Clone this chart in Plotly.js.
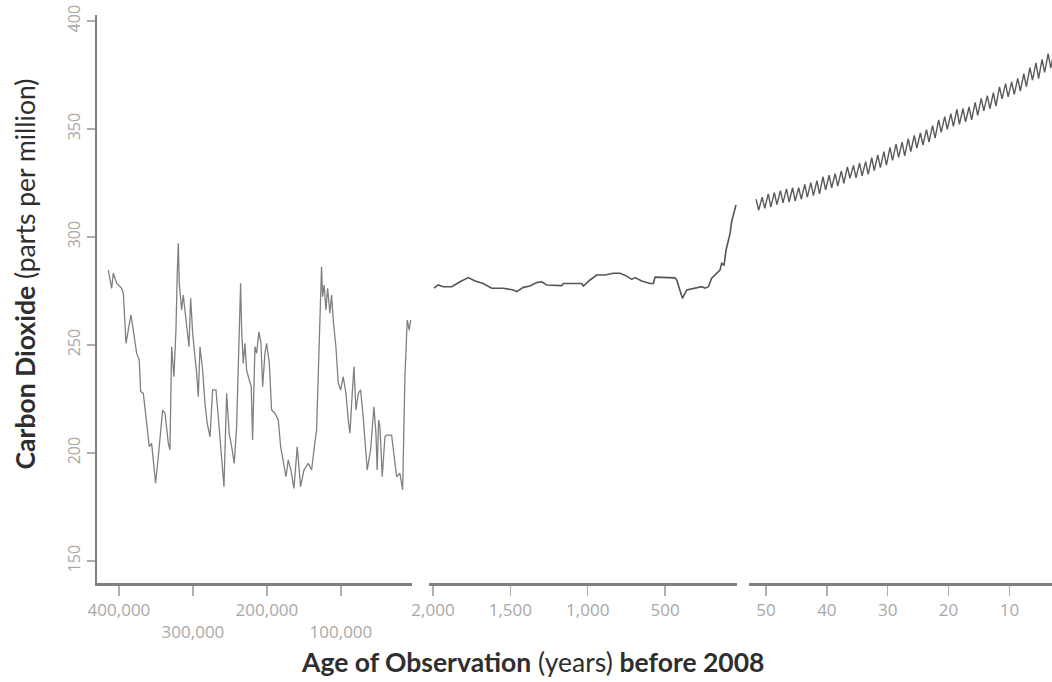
<!DOCTYPE html>
<html>
<head>
<meta charset="utf-8">
<script src="https://cdn.plot.ly/plotly-3.0.1.min.js"></script>
<style>html,body{margin:0;padding:0;background:#fff;}#chart{width:1052px;height:682px;}</style>
</head>
<body>
<div id="chart"></div>
<script>
// Panel 1: ice-core record (years before 2008, ppm)
const iceAge = [414460,409900,407700,403100,396400,394100,390500,387400,383800,380700,376100,372600,370700,367100,362600,359000,355900,350500,346000,341000,337800,333300,331100,328800,325700,323000,321200,319800,318500,315300,313100,310800,307700,305400,303100,300400,297300,295000,292800,290500,286900,283800,280700,277000,273400,268900,265800,261200,258100,254500,251000,247700,244200,241000,237800,235600,234200,232000,229700,227500,223900,221200,219400,216200,214000,210800,208100,205800,202700,200500,196800,193700,189200,184700,181500,178000,174300,171200,167600,163500,159100,154500,150000,144200,139600,136500,132900,128400,126200,124800,122600,120300,118000,114900,112600,110400,106800,103600,100400,96900,93200,90100,87800,85500,82400,79700,76600,73400,69900,64500,59900,55400,52700,51000,49100,47300,44200,40500,38300,31500,28400,24700,20300,16600,13500,10400,7700,5800];
const iceCO2 = [284.7,276.2,283.2,278.6,276.2,273.9,250.8,256.9,263.9,256.9,246.1,242.9,228.4,227.6,213.7,202.9,204.5,186.0,201.4,219.9,218.4,204.5,201.4,249.2,235.3,256.9,283.2,297.1,278.6,266.2,273.1,265.4,255.4,249.2,271.6,255.4,244.6,236.9,226.1,249.2,238.4,223.0,213.7,207.5,229.2,229.2,216.8,196.8,184.4,227.6,208.9,202.9,195.2,212.2,256.9,278.6,256.9,241.5,250.8,238.4,233.8,230.7,206.0,249.2,246.1,256.1,250.8,230.7,246.1,250.8,241.5,219.9,218.4,215.3,202.9,195.2,189.0,196.8,192.1,183.6,202.9,184.4,192.1,195.2,192.1,201.4,210.6,261.6,286.3,272.4,277.8,266.2,276.2,264.7,273.1,261.6,249.2,232.3,229.2,235.3,227.6,215.3,209.1,223.0,240.0,219.9,227.6,229.2,216.8,192.1,201.4,221.4,209.1,192.1,215.3,212.2,189.0,207.5,208.3,208.3,198.3,189.0,190.6,182.9,235.3,261.6,256.9,261.6];

// Panel 2: last two millennia (years before 2008, ppm)
const lawAge = [1994,1966,1933,1879,1825,1772,1728,1675,1621,1546,1481,1459,1416,1373,1330,1297,1265,1168,1158,1039,1028,985,942,888,834,791,748,716,694,651,597,576,565,436,425,403,388,360,296,263,242,220,199,177,160,145,134,119,106,91,80,70,48,42];
const lawCO2 = [276.3,277.8,277.0,277.0,279.3,281.2,279.6,278.5,276.3,276.3,275.5,274.7,276.7,277.3,278.9,279.3,277.8,277.5,278.5,278.5,277.3,280.1,282.4,282.4,283.2,283.2,281.9,280.4,281.2,279.6,278.5,278.5,281.4,281.1,280.1,275.5,271.6,275.5,276.3,277.0,276.3,277.0,280.9,282.4,283.2,284.7,287.8,287.0,294.0,297.8,301.7,307.1,313.3,314.8];

// Panel 3: direct measurements, seasonal high (May) and low (October) each year
const mlYear = [1958,1959,1960,1961,1962,1963,1964,1965,1966,1967,1968,1969,1970,1971,1972,1973,1974,1975,1976,1977,1978,1979,1980,1981,1982,1983,1984,1985,1986,1987,1988,1989,1990,1991,1992,1993,1994,1995,1996,1997,1998,1999,2000,2001,2002,2003,2004,2005,2006,2007,2008];
const mlMay = [317.5,318.5,320.0,320.6,321.5,322.3,322.8,322.9,324.4,325.2,326.1,327.9,328.6,329.4,330.6,332.5,333.2,334.2,334.9,336.7,338.0,339.5,341.5,343.0,343.9,345.5,347.0,348.2,349.7,351.6,354.2,355.7,357.1,359.1,359.5,360.2,362.3,364.2,365.5,366.8,369.5,371.0,371.8,373.5,375.6,378.4,380.6,382.2,384.9,386.4,388.5];
const mlOct = [312.4,313.3,313.8,315.0,315.8,316.2,316.7,317.5,318.5,319.2,320.0,321.8,322.8,323.6,324.9,327.2,327.4,328.3,329.0,330.8,332.1,333.3,335.5,336.9,337.6,339.6,341.2,342.6,343.9,345.8,348.5,349.9,351.2,352.2,353.3,354.2,356.3,358.4,359.4,360.6,364.0,364.9,366.0,367.6,369.6,372.6,373.4,376.2,378.2,380.8,381.9];
const mlRefYear = 2010; // age reference used by the panel
const mlX = [], mlY = [];
mlYear.forEach((yr, i) => {
  mlX.push(mlRefYear - (yr + 0.37)); mlY.push(mlMay[i]);
  mlX.push(mlRefYear - (yr + 0.79)); mlY.push(mlOct[i]);
});

const yTicks = [150, 200, 250, 300, 350, 400];
const x1Ticks = [400000, 300000, 200000, 100000];
const x1Text = ['400,000', '&nbsp;<br>300,000', '200,000', '&nbsp;<br>100,000'];
const x2Ticks = [2000, 1500, 1000, 500];
const x2Text = ['2,000', '1,500', '1,000', '500'];
const x3Ticks = [50, 40, 30, 20, 10];

const tickFont = {family: 'Open Sans, sans-serif', size: 17, color: '#a8a8a8'};
const axBase = {
  showgrid: false, zeroline: false, showline: true, linecolor: '#808080', linewidth: 2.5,
  ticks: 'outside', ticklen: 10, tickwidth: 1.5, tickcolor: '#b0b0b0',
  tickfont: tickFont, anchor: 'y', fixedrange: true
};

const traces = [
  {x: iceAge, y: iceCO2, xaxis: 'x', yaxis: 'y', mode: 'lines', line: {color: '#808080', width: 1.3}, hoverinfo: 'skip'},
  {x: lawAge, y: lawCO2, xaxis: 'x2', yaxis: 'y', mode: 'lines', line: {color: '#555555', width: 1.6}, hoverinfo: 'skip'},
  {x: mlX, y: mlY, xaxis: 'x3', yaxis: 'y', mode: 'lines', line: {color: '#5a5a5a', width: 1.4}, hoverinfo: 'skip'}
];

const titleFont = {family: 'Lato, sans-serif', size: 26.5, color: '#2e2e2e'};
const layout = {
  width: 1052, height: 682,
  margin: {l: 97, r: 0, t: 15, b: 99},
  paper_bgcolor: '#fff', plot_bgcolor: '#fff',
  showlegend: false,
  xaxis: Object.assign({}, axBase, {domain: [0, 0.3298], range: [429700, 4000], tickvals: x1Ticks, ticktext: x1Text}),
  xaxis2: Object.assign({}, axBase, {domain: [0.3476, 0.6702], range: [2026, 35], tickvals: x2Ticks, ticktext: x2Text}),
  xaxis3: Object.assign({}, axBase, {domain: [0.6827, 1], range: [52.8, 3.0], tickvals: x3Ticks}),
  yaxis: {
    range: [139.8, 402.8], showgrid: false, zeroline: false, showline: true, linecolor: '#808080', linewidth: 2.5,
    ticks: 'outside', ticklen: 8, tickwidth: 1.5, tickcolor: '#b0b0b0', tickvals: yTicks,
    tickangle: -90, tickfont: {family: 'Open Sans, sans-serif', size: 16, color: '#a8a8a8'}, fixedrange: true
  },
  annotations: [
    {xref: 'paper', yref: 'paper', x: -0.0754, y: 0.545, xanchor: 'center', yanchor: 'middle', textangle: -90, showarrow: false,
     text: '<b>Carbon Dioxide</b> (parts per million)', font: titleFont},
    {xref: 'paper', yref: 'paper', x: 0.4555, y: -0.139, xanchor: 'center', yanchor: 'middle', showarrow: false,
     text: '<b>Age of Observation</b> (years) <b>before 2008</b>', font: titleFont}
  ]
};

Plotly.newPlot('chart', traces, layout, {staticPlot: true, displayModeBar: false});
</script>
</body>
</html>
